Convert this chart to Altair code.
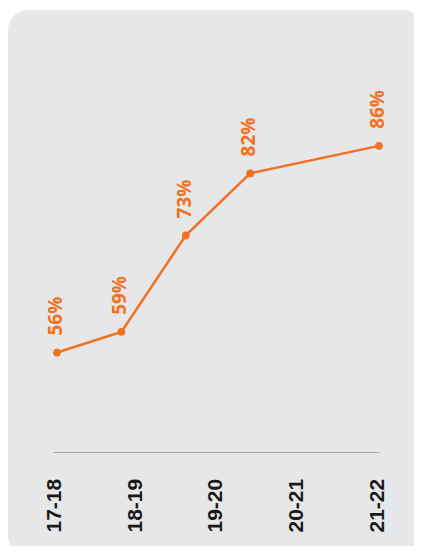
import altair as alt
import pandas as pd

seasons = ["17-18", "18-19", "19-20", "20-21", "21-22"]
values = [56, 59, 73, 82, 86]
point_slot = [0, 1, 2, 3, 5]          # horizontal slot of each point as drawn
label_slot = [0, 1.25, 2.5, 3.75, 5]  # horizontal slot of each season label

ORANGE = "#F37021"
PANEL = "#E6E7E8"

df = pd.DataFrame({
    "slot": point_slot,
    "value": values,
    "label": [f"{v}%" for v in values],
    "season": seasons,
})

expr = ""
for pos, s in zip(label_slot, seasons):
    expr += f"abs(datum.value - {pos}) < 0.01 ? '{s}' : "
expr += "''"

W, H = 326, 409
xscale = alt.Scale(domain=[-0.062, 5])
yscale = alt.Scale(domain=[41.56, 100.93])

panel = alt.Chart(pd.DataFrame({"a": [0]})).mark_rect(
    fill=PANEL, cornerRadius=20
).encode(
    x=alt.value(-45), x2=alt.value(369), y=alt.value(-33), y2=alt.value(514)
)

x_axis = alt.Axis(
    values=label_slot, labelExpr=expr, title=None, grid=False, ticks=False,
    domain=True, domainColor="#A8A8A8", domainWidth=1, zindex=1,
    labelAngle=270, labelAlign="left", labelBaseline="middle",
    labelPadding=80, labelOffset=-2, labelFont="Liberation Sans",
    labelFontWeight="bold", labelFontSize=21, labelColor="#1A1A1A",
    labelOverlap=False, labelBound=False, labelFlush=False,
)

base = alt.Chart(df)

line = base.mark_line(color=ORANGE, strokeWidth=2.5).encode(
    x=alt.X("slot:Q", scale=xscale, axis=x_axis),
    y=alt.Y("value:Q", scale=yscale, axis=None),
)

points = base.mark_point(filled=True, color=ORANGE, size=60, opacity=1).encode(
    x=alt.X("slot:Q", scale=xscale),
    y=alt.Y("value:Q", scale=yscale),
)

texts = base.mark_text(
    angle=270, align="left", baseline="middle", dx=17, dy=-1,
    font="Open Sans", fontWeight=700, fontSize=19, color=ORANGE,
).encode(
    x=alt.X("slot:Q", scale=xscale),
    y=alt.Y("value:Q", scale=yscale),
    text="label:N",
)

chart = alt.layer(panel, line, points, texts).properties(
    width=W, height=H,
    autosize=alt.AutoSizeParams(type="none"),
    padding={"left": 45, "top": 35, "right": 35, "bottom": 94},
    background="white",
).configure_view(stroke=None)

chart.save("out.html", embed_options={"renderer": "svg", "actions": False})
